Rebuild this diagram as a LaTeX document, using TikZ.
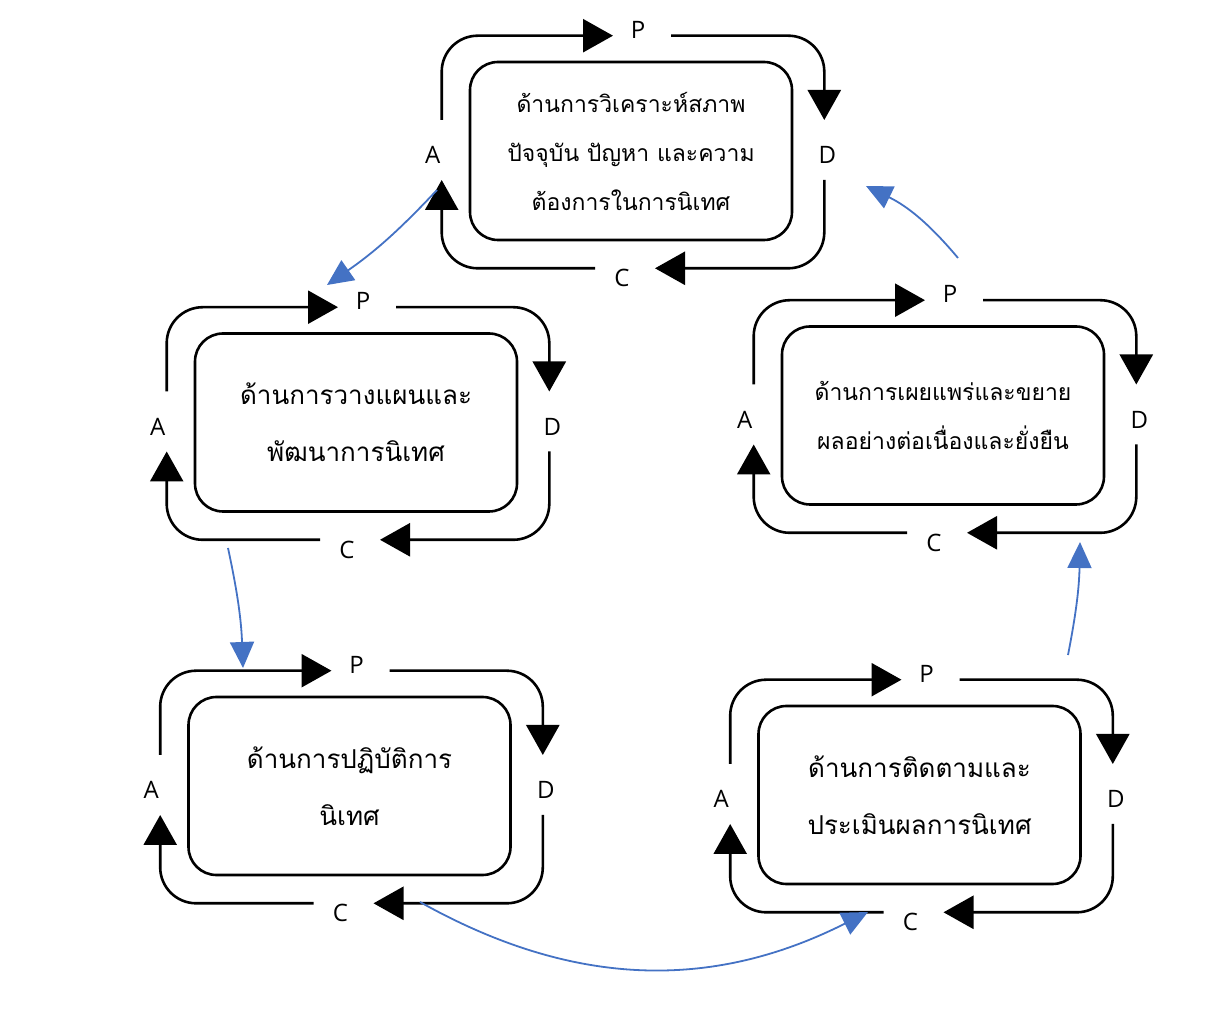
\documentclass[tikz,border=0pt]{standalone}
\usepackage{fontspec}
\usepackage{tikz}
\usetikzlibrary{arrows.meta,calc}
\newfontfamily\thaifont[Script=Thai]{Loma}
\newfontfamily\labelfont{Open Sans}
\definecolor{flowblue}{HTML}{4472C4}

% one P-D-C-A loop round the box named #1
\newcommand{\pdcaloop}[1]{%
  \coordinate (#1nw) at ([shift={(-27,25)}]#1.north west);
  \coordinate (#1ne) at ([shift={(31,25)}]#1.north east);
  \coordinate (#1se) at ([shift={(31,-27)}]#1.south east);
  \coordinate (#1sw) at ([shift={(-27,-27)}]#1.south west);
  \node[letter] (#1P) at ($(#1.north)+(7,31)$) {P};
  \node[letter] (#1D) at ($(#1.east)+(34,-4)$) {D};
  \node[letter] (#1C) at ($(#1.south)+(-9,-37)$) {C};
  \node[letter] (#1A) at ($(#1.west)+(-36,-4)$) {A};
  \draw[cycle] ($(#1nw|-#1A)+(0,35)$) -- (#1nw) -- ($(#1nw-|#1P)+(-25,0)$);
  \draw[cycle] ($(#1nw-|#1P)+(33,0)$) -- (#1ne) -- ($(#1ne|-#1D)+(0,35)$);
  \draw[cycle] ($(#1ne|-#1D)+(0,-25)$) -- (#1se) -- ($(#1se-|#1C)+(33,0)$);
  \draw[cycle] ($(#1se-|#1C)+(-27,0)$) -- (#1sw) -- ($(#1sw|-#1A)+(0,-25)$);
}

\begin{document}
\begin{tikzpicture}[x=1pt, y=1pt,
    box/.style = {draw, line width=2.6pt, rounded corners=28pt,
      minimum width=322pt, minimum height=178pt, align=center, inner sep=0pt},
    big/.style = {font=\thaifont\fontsize{26}{57}\selectfont},
    small/.style = {font=\thaifont\fontsize{23}{49}\selectfont},
    letter/.style = {font=\labelfont\fontsize{24}{24}\selectfont, inner sep=0pt},
    cycle/.style = {line width=2.6pt, rounded corners=36pt,
      -{Triangle[length=30pt,width=33pt]}},
    flow/.style = {draw=flowblue, line width=1.8pt,
      -{Triangle[length=26pt,width=24pt,fill=flowblue]}}]
  \useasboundingbox (0,0) rectangle (1208,1018);

  \node[box, small] (ana) at (631,867)
    {ด้านการวิเคราะห์สภาพ\\ปัจจุบัน ปัญหา และความ\\ต้องการในการนิเทศ};
  \node[box, big] (plan) at (356,595.5)
    {ด้านการวางแผนและ\\พัฒนาการนิเทศ};
  \node[box, small] (dis) at (943,602.5)
    {ด้านการเผยแพร่และขยาย\\ผลอย่างต่อเนื่องและยั่งยืน};
  \node[box, big] (prac) at (349.5,232)
    {ด้านการปฏิบัติการ\\นิเทศ};
  \node[box, big] (mon) at (919.5,223)
    {ด้านการติดตามและ\\ประเมินผลการนิเทศ};

  \pdcaloop{ana}
  \pdcaloop{plan}
  \pdcaloop{dis}
  \pdcaloop{prac}
  \pdcaloop{mon}

  % links between the loops
  \coordinate (f1s) at (437,828);  \coordinate (f1e) at (327,733);
  \coordinate (f2s) at (228,470);  \coordinate (f2e) at (243,350);
  \coordinate (f3s) at (420,116);  \coordinate (f3e) at (868,106);
  \coordinate (f4s) at (1068,363); \coordinate (f4e) at (1080,476);
  \coordinate (f5s) at (958,760);  \coordinate (f5e) at (866,832);
  \draw[flow] (f1s) to[bend left=6] (f1e);
  \draw[flow] (f2s) to[bend left=5] (f2e);
  \draw[flow] (f3s) to[bend right=28] (f3e);
  \draw[flow] (f4s) to[bend right=5] (f4e);
  \draw[flow] (f5s) to[bend right=12] (f5e);
\end{tikzpicture}
\end{document}
